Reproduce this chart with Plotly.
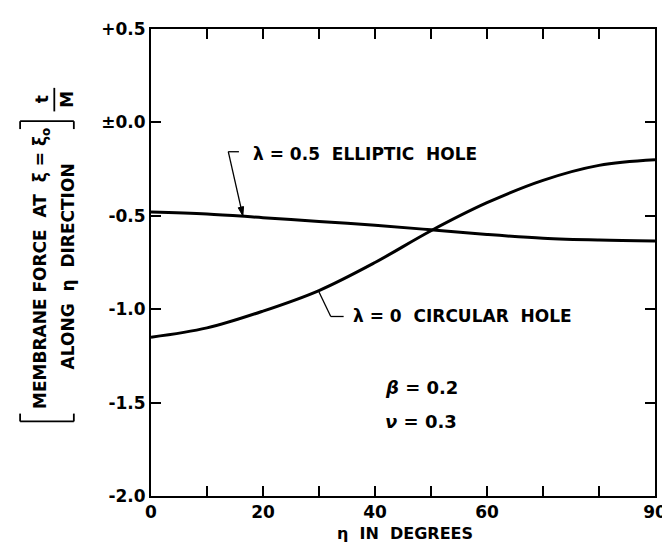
import plotly.graph_objects as go

# Data
eta = [0, 10, 20, 30, 40, 50, 60, 70, 80, 90]
circular = [-1.15, -1.10, -1.01, -0.90, -0.75, -0.58, -0.43, -0.31, -0.23, -0.20]
elliptic = [-0.48, -0.49, -0.51, -0.53, -0.55, -0.575, -0.60, -0.62, -0.63, -0.635]

x_tickvals = [0, 20, 40, 60, 90]
x_ticktext = ["0", "20", "40", "60", "90"]
x_minorvals = [10, 30, 50, 70, 80]
y_tickvals = [0.5, 0.0, -0.5, -1.0, -1.5, -2.0]
y_ticktext = ["+0.5", "±0.0", "-0.5", "-1.0", "-1.5", "-2.0"]

FONT = "DejaVu Sans"
W, H = 670, 546
L, R, T, B = 143, 11, 12, 58
pw, ph = W - L - R, H - T - B
XR, YR = (0, 90), (-2.0, 0.5)
sx = pw / (XR[1] - XR[0])   # px per degree
sy = ph / (YR[1] - YR[0])   # px per unit

def px(xp):
    return (xp - L) / pw

def py(yp):
    return (H - B - yp) / ph

fig = go.Figure()
for ys in (circular, elliptic):
    fig.add_trace(go.Scatter(x=eta, y=ys, mode="lines",
                             line=dict(color="black", width=3, shape="spline", smoothing=1.0),
                             showlegend=False, hoverinfo="skip"))

tickfont = dict(family=FONT, size=17, color="black", weight="bold")

fig.update_xaxes(range=list(XR), tickvals=x_tickvals, ticktext=x_ticktext,
                 ticks="inside", ticklen=10, tickwidth=1.5, tickcolor="black",
                 minor=dict(tickvals=x_minorvals, ticks="inside", ticklen=10,
                            tickwidth=1.5, tickcolor="black", showgrid=False),
                 showline=True, linewidth=2, linecolor="black", mirror="ticks",
                 showgrid=False, zeroline=False, tickfont=tickfont)
fig.update_yaxes(range=list(YR), tickvals=y_tickvals, ticktext=y_ticktext,
                 ticks="inside", ticklen=10, tickwidth=1.5, tickcolor="black",
                 showline=True, linewidth=2, linecolor="black", mirror="ticks",
                 showgrid=False, zeroline=False, tickfont=tickfont)

annfont = dict(family=FONT, size=17, color="black", weight="bold")
anns = []
anns.append(dict(x=17.8, y=-0.167, xref="x", yref="y", text="λ = 0.5  ELLIPTIC  HOLE",
                 showarrow=False, xanchor="left", yanchor="middle", font=annfont))
anns.append(dict(x=35.8, y=-1.039, xref="x", yref="y", text="λ = 0  CIRCULAR  HOLE",
                 showarrow=False, xanchor="left", yanchor="middle", font=annfont))
anns.append(dict(x=48.3, y=-1.42, xref="x", yref="y", text="<i>β</i> = 0.2",
                 showarrow=False, xanchor="center", yanchor="middle",
                 font=dict(family=FONT, size=18, color="black", weight="bold")))
anns.append(dict(x=48.3, y=-1.60, xref="x", yref="y", text="<i>ν</i> = 0.3",
                 showarrow=False, xanchor="center", yanchor="middle",
                 font=dict(family=FONT, size=18, color="black", weight="bold")))
anns.append(dict(x=px(403), y=py(526), xref="paper", yref="paper", text="η  IN  DEGREES",
                 showarrow=False, xanchor="center", yanchor="middle",
                 font=dict(family=FONT, size=16, color="black", weight="bold")))
anns.append(dict(x=px(31), y=py(256), xref="paper", yref="paper",
                 text="MEMBRANE FORCE  AT  ξ = ξ<sub>o</sub>", textangle=-90,
                 showarrow=False, xanchor="center", yanchor="middle",
                 font=dict(family=FONT, size=17, color="black", weight="bold")))
anns.append(dict(x=px(58), y=py(254), xref="paper", yref="paper",
                 text="ALONG  η  DIRECTION", textangle=-90,
                 showarrow=False, xanchor="center", yanchor="middle",
                 font=dict(family=FONT, size=17, color="black", weight="bold")))
anns.append(dict(x=px(31), y=py(84), xref="paper", yref="paper", text="t", textangle=-90,
                 showarrow=False, xanchor="center", yanchor="middle",
                 font=dict(family=FONT, size=17, color="black", weight="bold")))
anns.append(dict(x=px(57), y=py(84), xref="paper", yref="paper", text="M", textangle=-90,
                 showarrow=False, xanchor="center", yanchor="middle",
                 font=dict(family=FONT, size=17, color="black", weight="bold")))
fig.update_layout(annotations=anns)

shapes = []
lw = dict(color="black", width=1.8)
def seg(x0, y0, x1, y1, ref="paper"):
    if ref == "paper":
        shapes.append(dict(type="line", xref="paper", yref="paper",
                           x0=px(x0), y0=py(y0), x1=px(x1), y1=py(y1), line=lw))
    else:
        shapes.append(dict(type="line", xref="x", yref="y",
                           x0=x0, y0=y0, x1=x1, y1=y1, line=dict(color="black", width=1.3)))

# brackets around y title
seg(9, 106, 64, 106); seg(9, 106, 9, 114); seg(64, 106, 64, 114)
seg(9, 412, 64, 412); seg(9, 412, 9, 404); seg(64, 412, 64, 404)
# fraction bar
seg(44, 72, 44, 96)

# elliptic leader with arrowhead
tip = (16.4, -0.50)
tail = (13.8, -0.157)
seg(tail[0], tail[1], 15.7, tail[1], ref="data")
seg(tail[0], tail[1], tip[0], tip[1], ref="data")
dxp = (tip[0] - tail[0]) * sx
dyp = (tip[1] - tail[1]) * sy
n = (dxp ** 2 + dyp ** 2) ** 0.5
ux, uy = dxp / n, dyp / n
hl, hw = 9.0, 2.8
bx, by = -ux * hl, -uy * hl
p1 = (tip[0] + (bx - uy * hw) / sx, tip[1] + (by + ux * hw) / sy)
p2 = (tip[0] + (bx + uy * hw) / sx, tip[1] + (by - ux * hw) / sy)
shapes.append(dict(type="path", xref="x", yref="y",
                   path=f"M {tip[0]} {tip[1]} L {p1[0]} {p1[1]} L {p2[0]} {p2[1]} Z",
                   fillcolor="black", line=dict(color="black", width=1)))

# circular leader
seg(30.0, -0.908, 32.1, -1.039, ref="data")
seg(32.1, -1.039, 34.4, -1.039, ref="data")
fig.update_layout(shapes=shapes)

fig.update_layout(width=W, height=H, margin=dict(l=L, r=R, t=T, b=B),
                  paper_bgcolor="white", plot_bgcolor="white")
fig.write_html("out.html")
